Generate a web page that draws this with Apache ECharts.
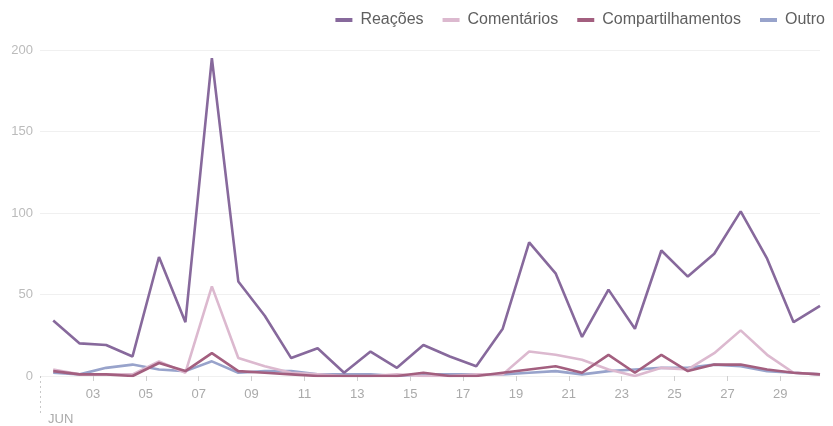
<!DOCTYPE html>
<html>
<head>
<meta charset="utf-8">
<script src="https://cdn.jsdelivr.net/npm/echarts@6/dist/echarts.min.js"></script>
<style>html,body{margin:0;padding:0;background:#fff}#c{width:833px;height:426px}</style>
</head>
<body>
<div id="c"></div>
<script>
var days = [1,2,3,4,5,6,7,8,9,10,11,12,13,14,15,16,17,18,19,20,21,22,23,24,25,26,27,28,29,30];
var reacoes = [34,20,19,12,73,33,195,58,37,11,17,2,15,5,19,12,6,29,82,63,24,53,29,77,61,75,101,72,33,43];
var comentarios = [4,1,1,1,9,2,55,11,6,2,1,0,0,1,0,0,1,1,15,13,10,4,0,5,4,14,28,13,2,1];
var compartilhamentos = [3,1,1,0,8,3,14,3,2,1,0,0,0,0,2,0,0,2,4,6,2,13,2,13,3,7,7,4,2,1];
var outro = [2,1,5,7,4,3,9,2,3,3,1,1,1,0,1,1,1,1,2,3,1,3,4,5,5,7,6,3,2,1];
var seriesNames = ['Reações','Comentários','Compartilhamentos','Outro'];
var monthLabel = 'JUN';

function pts(vals){ return vals.map(function(v,i){ return [days[i]-0.5, v]; }); }
var font = 'Arial, "Liberation Sans", sans-serif';
var colors = {'Reações':'#87699c','Comentários':'#dcb9cf','Compartilhamentos':'#a35f7f','Outro':'#98a3cb'};
var chart = echarts.init(document.getElementById('c'));
chart.setOption({
  animation:false,
  textStyle:{fontFamily:font},
  legend:{
    right:3, top:7, itemWidth:17, itemHeight:4, itemGap:19, icon:'rect',
    textStyle:{color:'#5f5f5f', fontSize:16, fontFamily:font, padding:[0,0,0,3]},
    data:seriesNames
  },
  grid:{left:40, right:13, top:50, bottom:50, containLabel:false},
  xAxis:[{
    type:'value', min:0, max:29.5, interval:2,
    axisLine:{show:false},
    axisTick:{show:true, length:5, lineStyle:{color:'#cfcfcf'}},
    splitLine:{show:false},
    axisLabel:{color:'#aaa', fontSize:13, margin:12, showMinLabel:false, showMaxLabel:false,
      formatter:function(v){ if(v===0) return ''; var d=v+1; return (d<10?'0':'')+d; }}
  },{
    type:'value', min:0, max:29.5, position:'bottom',
    axisLine:{show:false}, splitLine:{show:false},
    axisTick:{show:true, length:38, customValues:[0], lineStyle:{color:'#c8c8c8', type:[2,3]}},
    axisLabel:{show:true, customValues:[0], color:'#aaa', fontSize:13, margin:37, align:'left', padding:[0,0,0,8],
      formatter:function(){ return monthLabel; }}
  }],
  yAxis:{
    type:'value', min:0, max:200, interval:50,
    axisLine:{show:false}, axisTick:{show:false},
    splitLine:{lineStyle:{color:'#f0f0f0'}},
    axisLabel:{color:'#bbb', fontSize:13, margin:7}
  },
  series:[
    {name:seriesNames[3], type:'line', data:pts(outro), symbol:'none', lineStyle:{width:2.6}, z:2},
    {name:seriesNames[1], type:'line', data:pts(comentarios), symbol:'none', lineStyle:{width:2.6}, z:3},
    {name:seriesNames[2], type:'line', data:pts(compartilhamentos), symbol:'none', lineStyle:{width:2.6}, z:4},
    {name:seriesNames[0], type:'line', data:pts(reacoes), symbol:'none', lineStyle:{width:2.6}, z:5}
  ].map(function(s){ s.color = colors[s.name]; return s; })
});
</script>
</body>
</html>
